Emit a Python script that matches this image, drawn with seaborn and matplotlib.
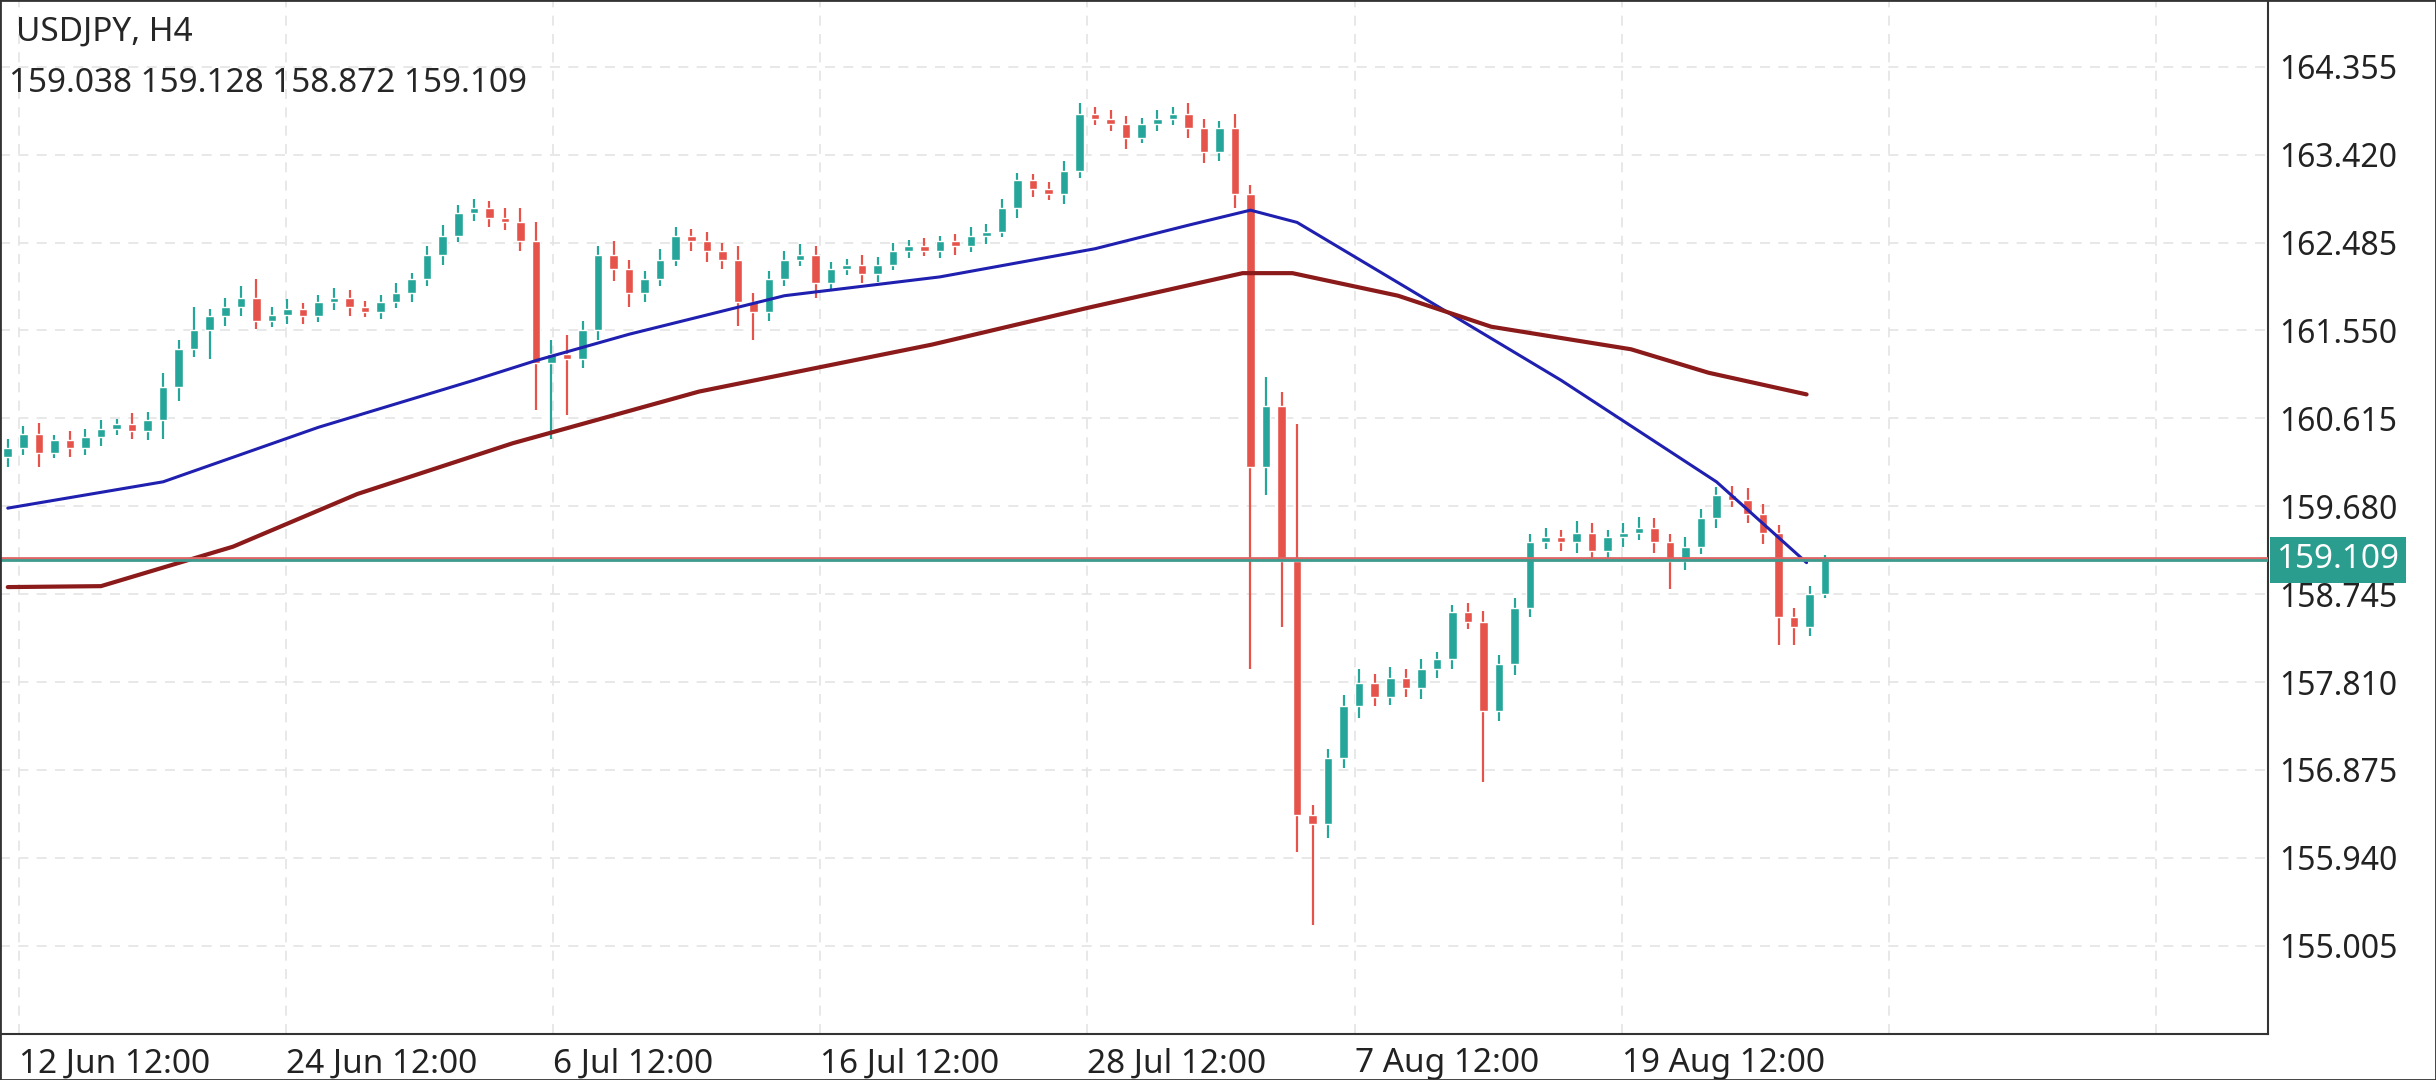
import numpy as np
import pandas as pd
import matplotlib
matplotlib.use("Agg")
import matplotlib.pyplot as plt
import seaborn as sns

# 4H candles (downsampled), first open then closes
first_open = 160.20
closes = [160.30, 160.45, 160.25, 160.38, 160.30, 160.42, 160.50, 160.55, 160.48, 160.60,
          160.95, 161.35, 161.55, 161.70, 161.80,
          161.90, 161.65, 161.72, 161.78, 161.70, 161.85, 161.90, 161.80, 161.75,
          161.85, 161.95, 162.10, 162.35, 162.55, 162.80, 162.85,
          162.75, 162.70, 162.50,
          161.20, 161.30, 161.25, 161.55,
          162.35, 162.20, 161.95, 162.10, 162.30, 162.55, 162.50, 162.40, 162.30, 161.85,
          161.75, 162.10, 162.30, 162.35, 162.05, 162.20, 162.25, 162.15, 162.25, 162.40,
          162.45, 162.40, 162.50, 162.45, 162.55, 162.60, 162.85, 163.15, 163.05, 163.00,
          163.25, 163.85, 163.80, 163.75, 163.60, 163.75, 163.80, 163.85, 163.70, 163.45,
          163.70, 163.00,
          160.10, 160.75, 159.10, 156.40, 156.30, 157.00, 157.55, 157.80, 157.65,
          157.85, 157.75, 157.95, 158.05, 158.55, 158.45, 157.50, 158.00, 158.60, 159.30, 159.35,
          159.30, 159.40, 159.20, 159.35, 159.40, 159.45, 159.30, 159.10, 159.25, 159.55,
          159.80, 159.75, 159.60, 159.40, 158.50, 158.40, 158.75, 159.109]
upper_wick = [0.10, 0.08, 0.12, 0.06, 0.10, 0.08, 0.10, 0.06, 0.12, 0.08,
              0.15, 0.10, 0.25, 0.08, 0.10,
              0.12, 0.20, 0.08, 0.10, 0.06, 0.08, 0.10, 0.08, 0.06,
              0.08, 0.10, 0.06, 0.10, 0.12, 0.08, 0.10,
              0.08, 0.10, 0.15,
              0.20, 0.15, 0.20, 0.10,
              0.10, 0.15, 0.10, 0.08, 0.12, 0.10, 0.08, 0.10, 0.08, 0.15,
              0.10, 0.08, 0.10, 0.12, 0.10, 0.08, 0.06, 0.10, 0.08, 0.08,
              0.06, 0.08, 0.06, 0.08, 0.10, 0.08, 0.10, 0.08, 0.06, 0.08,
              0.10, 0.12, 0.08, 0.10, 0.08, 0.06, 0.10, 0.08, 0.12, 0.10,
              0.08, 0.15,
              0.10, 0.30, 0.15, 1.45, 0.10, 0.10, 0.12, 0.15, 0.10,
              0.12, 0.10, 0.10, 0.08, 0.08, 0.10, 0.12, 0.10, 0.10, 0.08, 0.10,
              0.08, 0.12, 0.10, 0.08, 0.10, 0.12, 0.10, 0.08, 0.10, 0.10,
              0.08, 0.10, 0.12, 0.10, 0.08, 0.10, 0.08, 0.05]
lower_wick = [0.10, 0.08, 0.15, 0.06, 0.10, 0.08, 0.10, 0.06, 0.08, 0.10,
              0.20, 0.15, 0.08, 0.30, 0.10,
              0.10, 0.08, 0.06, 0.10, 0.08, 0.06, 0.08, 0.10, 0.06,
              0.08, 0.06, 0.10, 0.08, 0.10, 0.06, 0.08,
              0.10, 0.08, 0.10,
              0.50, 0.80, 0.60, 0.10,
              0.10, 0.12, 0.15, 0.10, 0.08, 0.06, 0.10, 0.12, 0.10, 0.25,
              0.30, 0.10, 0.08, 0.06, 0.15, 0.08, 0.06, 0.10, 0.08, 0.06,
              0.08, 0.06, 0.08, 0.10, 0.06, 0.08, 0.06, 0.10, 0.08, 0.06,
              0.10, 0.08, 0.06, 0.08, 0.12, 0.06, 0.08, 0.06, 0.10, 0.12,
              0.10, 0.15,
              2.15, 0.30, 0.70, 0.40, 1.07, 0.15, 0.10, 0.12, 0.10,
              0.08, 0.10, 0.12, 0.10, 0.10, 0.08, 0.75, 0.10, 0.12, 0.10, 0.08,
              0.10, 0.12, 0.10, 0.08, 0.10, 0.08, 0.12, 0.30, 0.10, 0.08,
              0.10, 0.08, 0.10, 0.12, 0.30, 0.20, 0.10, 0.05]

# moving averages, sampled at candle indices
ma_fast_idx = [0, 10, 20, 30, 34, 40, 50, 60, 70, 76, 80, 83, 90, 100, 110, 115.8]
ma_fast = [159.66, 159.94, 160.52, 161.02, 161.23, 161.51, 161.92, 162.12, 162.42, 162.67,
           162.83, 162.70, 162.01, 161.02, 159.94, 159.08]
ma_slow_idx = [0, 6, 14.5, 22.5, 32.5, 44.5, 59.5, 69.5, 79.5, 82.7, 89.5, 95.5, 104.5, 109.5, 115.8]
ma_slow = [158.82, 158.83, 159.25, 159.81, 160.35, 160.90, 161.40, 161.79, 162.16, 162.16,
           161.92, 161.59, 161.35, 161.10, 160.87]

price_ticks = [155.005, 155.940, 156.875, 157.810, 158.745, 159.680,
               160.615, 161.550, 162.485, 163.420, 164.355]
date_pos = [0.7, 17.9, 35.1, 52.3, 69.5, 86.7, 103.9, 121.1, 138.3]
date_labels = ["12 Jun 12:00", "24 Jun 12:00", "6 Jul 12:00", "16 Jul 12:00",
               "28 Jul 12:00", "7 Aug 12:00", "19 Aug 12:00", "", ""]
bid, ask = 159.109, 159.128
ohlc_text = "159.038 159.128 158.872 159.109"

GREEN = "#26a69a"
RED = "#e5534b"

sns.set_style("white")
plt.rcParams["font.family"] = ["Noto Sans", "DejaVu Sans"]

opens = [first_open] + closes[:-1]
df = pd.DataFrame({"open": opens, "close": closes})
df["idx"] = np.arange(len(df))
df["high"] = df[["open", "close"]].max(axis=1) + np.array(upper_wick)
df["low"] = df[["open", "close"]].min(axis=1) - np.array(lower_wick)
colors = [GREEN if c >= o else RED for o, c in zip(df["open"], df["close"])]

fig = plt.figure(figsize=(24.36, 10.8), dpi=100)
ax = fig.add_axes([0.0, 0.043, 0.931, 0.957])

for y in price_ticks:
    ax.axhline(y, color="#e4e4e4", lw=1.2, ls=(0, (6, 5)), zorder=0)
for x in date_pos:
    ax.axvline(x, color="#e4e4e4", lw=1.2, ls=(0, (6, 5)), zorder=0)

ax.vlines(df["idx"], df["low"], df["high"], colors=colors, lw=1.6, zorder=2)
body = (df["close"] - df["open"]).abs().clip(lower=0.02)
ax.bar(df["idx"], body, bottom=df[["open", "close"]].min(axis=1),
       width=0.55, color=colors, zorder=3)

sns.lineplot(x=ma_fast_idx, y=ma_fast, ax=ax, color="#1f1fb0", lw=2.2, zorder=4)
sns.lineplot(x=ma_slow_idx, y=ma_slow, ax=ax, color="#8b1a1a", lw=3, zorder=4)

ax.axhline(ask, color="#e06666", lw=2, zorder=5)
ax.axhline(bid, color="#3d9a8e", lw=2, zorder=5)

ax.set_xlim(-0.5, 145.5)
ax.set_ylim(154.07, 165.066)
ax.yaxis.tick_right()
ax.set_yticks(price_ticks)
ax.set_yticklabels([f"{v:.3f}" for v in price_ticks], fontsize=23, color="#222222")
ax.set_xticks(date_pos)
ax.set_xticklabels(date_labels, fontsize=24, color="#222222", ha="left")
ax.tick_params(axis="both", length=0, pad=8)
ax.tick_params(axis="x", pad=10)
for s in ["top", "left"]:
    ax.spines[s].set_visible(False)
for s in ["right", "bottom"]:
    ax.spines[s].set_color("#333333")
    ax.spines[s].set_linewidth(1.5)

ax.text(0.007, 0.985, "USDJPY, H4", transform=ax.transAxes, fontsize=24, va="top")
ax.text(0.004, 0.935, ohlc_text, transform=ax.transAxes, fontsize=24, va="top")

ax.annotate(f"{bid:.3f}", xy=(1.0, bid), xycoords=("axes fraction", "data"),
            xytext=(6, 0), textcoords="offset points", va="center", ha="left",
            fontsize=24, color="white",
            bbox=dict(boxstyle="square,pad=0.2", fc="#2a9d8f", ec="none"), zorder=6)

fig.patches.append(plt.Rectangle((0, 0), 1, 1, transform=fig.transFigure,
                                 fill=False, ec="#333333", lw=2))
fig.savefig("out.png", dpi=100)
